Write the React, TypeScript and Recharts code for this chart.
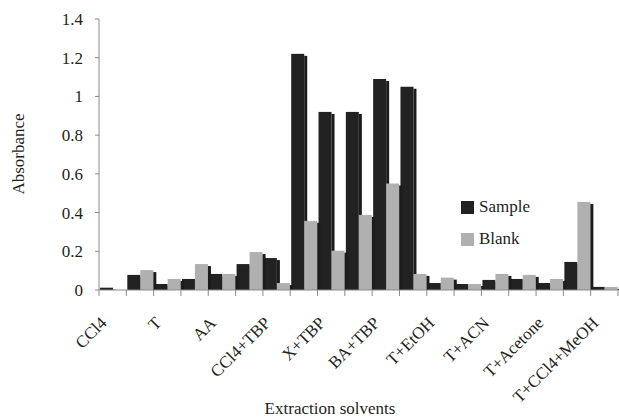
import { BarChart, Bar, XAxis, YAxis, Legend, Label } from "recharts";

// 19 solvent systems; Excel only printed every other name on the axis
const tickLabels = [
  "CCl4", "", "T", "", "AA", "", "CCl4+TBP", "", "X+TBP", "",
  "BA+TBP", "", "T+EtOH", "", "T+ACN", "", "T+Acetone", "", "T+CCl4+MeOH",
];
const sample = [
  0.012, 0.078, 0.031, 0.057, 0.083, 0.134, 0.165, 1.22, 0.92, 0.92,
  1.09, 1.05, 0.036, 0.031, 0.052, 0.057, 0.036, 0.145, 0.016,
];
const blank = [
  0, 0.103, 0.057, 0.134, 0.083, 0.196, 0.036, 0.357, 0.203, 0.388,
  0.55, 0.083, 0.064, 0.031, 0.083, 0.078, 0.057, 0.455, 0.016,
];
const yTicks = [0, 0.2, 0.4, 0.6, 0.8, 1, 1.2, 1.4];
const legendItems = [
  { name: "Sample", color: "#222222" },
  { name: "Blank", color: "#b0b0b0" },
];

const data = tickLabels.map((label, i) => ({
  slot: i,
  label,
  sample: sample[i],
  blank: blank[i],
}));

const W = 619;
const H = 419;
const LEFT = 99;
const RIGHT = 1;
const FONT = "Liberation Serif, Times New Roman, serif";
const INK = "#231f20";
const AXIS = "#8a8a8a";

function ShadowBar(props: any) {
  const { x, y, width, height, fill } = props;
  if (!height || height <= 0) return null;
  return (
    <g>
      <rect x={x} y={y} width={width} height={height} fill={fill} />
      {height > 2 && (
        <rect x={x + width} y={y + 2} width={3} height={height - 2} fill="#1c1c1c" />
      )}
    </g>
  );
}

// Excel-style category axis: marks on the slot edges, slanted names under every other slot
function CategoryAxisDecor(props: any) {
  const vb = props.viewBox || {};
  const x0 = vb.x ?? LEFT;
  const y0 = vb.y ?? 290;
  const band = (vb.width ?? W - LEFT - RIGHT) / tickLabels.length;
  return (
    <g>
      {tickLabels.map((_, i) => (
        <line
          key={"t" + i}
          x1={x0 + i * band}
          x2={x0 + i * band}
          y1={y0}
          y2={y0 + 6}
          stroke={AXIS}
        />
      ))}
      <line
        x1={x0 + tickLabels.length * band}
        x2={x0 + tickLabels.length * band}
        y1={y0}
        y2={y0 + 6}
        stroke={AXIS}
      />
      {tickLabels.map((label, i) => {
        if (!label) return null;
        const ax = x0 + (i + 0.5) * band - 5;
        const ay = y0 + 34;
        return (
          <text
            key={"l" + i}
            x={ax}
            y={ay}
            textAnchor="end"
            transform={`rotate(-45 ${ax} ${ay})`}
            fontFamily={FONT}
            fontSize={17}
            fill={INK}
          >
            {label}
          </text>
        );
      })}
      <text
        x={330}
        y={414}
        textAnchor="middle"
        fontFamily={FONT}
        fontSize={17}
        fill={INK}
      >
        Extraction solvents
      </text>
    </g>
  );
}

function LegendBox() {
  return (
    <div style={{ fontFamily: FONT, fontSize: 17, color: INK }}>
      {legendItems.map((item) => (
        <div
          key={item.name}
          style={{ display: "flex", alignItems: "center", height: 32 }}
        >
          <span
            style={{
              display: "inline-block",
              width: 13,
              height: 13,
              background: item.color,
              marginRight: 5,
            }}
          />
          {item.name}
        </div>
      ))}
    </div>
  );
}

export default function App() {
  return (
    <div
      style={{
        position: "absolute",
        left: 0,
        top: 0,
        background: "#fff",
        fontFamily: FONT,
      }}
    >
      <BarChart
        width={W}
        height={H}
        data={data}
        margin={{ top: 19, right: RIGHT, bottom: 0, left: 0 }}
        barCategoryGap={1}
        barGap={0}
      >
        <XAxis
          dataKey="slot"
          type="category"
          interval={0}
          height={129}
          tick={false}
          tickLine={false}
          axisLine={{ stroke: AXIS }}
        >
          <Label content={<CategoryAxisDecor />} />
        </XAxis>
        <YAxis
          width={LEFT}
          domain={[0, 1.4]}
          ticks={yTicks}
          interval={0}
          tickSize={4}
          tickMargin={12}
          axisLine={{ stroke: AXIS }}
          tickLine={{ stroke: AXIS }}
          tick={{ fontSize: 17, fill: INK, fontFamily: FONT }}
        >
          <Label
            content={() => (
              <text
                x={24}
                y={154}
                textAnchor="middle"
                transform="rotate(-90 24 154)"
                fontFamily={FONT}
                fontSize={17}
                fill={INK}
              >
                Absorbance
              </text>
            )}
          />
        </YAxis>
        <Legend
          layout="vertical"
          align="center"
          verticalAlign="middle"
          content={<LegendBox />}
          wrapperStyle={{ left: 461, top: 191, width: "auto", height: "auto" }}
        />
        <Bar
          dataKey="sample"
          name="Sample"
          fill="#222222"
          shape={<ShadowBar />}
          isAnimationActive={false}
        />
        <Bar
          dataKey="blank"
          name="Blank"
          fill="#b0b0b0"
          shape={<ShadowBar />}
          isAnimationActive={false}
        />
      </BarChart>
    </div>
  );
}
